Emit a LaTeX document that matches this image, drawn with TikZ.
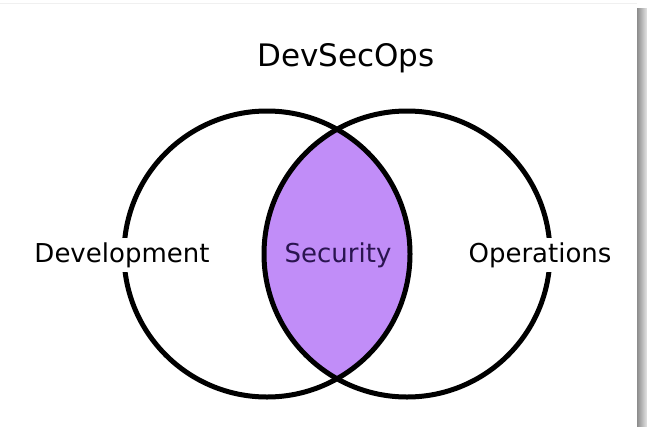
\documentclass[tikz,border=0pt]{standalone}
\usepackage{fontspec}
\setmainfont{DejaVu Sans}
\usepackage{xcolor}

\definecolor{secfill}{HTML}{C18DF8}
\definecolor{sectext}{HTML}{2A1450}

\begin{document}
\begin{tikzpicture}[x=1pt,y=-1pt,
        word/.style={font=\fontsize{26}{31}\selectfont, anchor=base, inner sep=4.5pt},
        ring/.style={line width=5pt}]
                \useasboundingbox (0,0) rectangle (647,426);

                \coordinate (dev) at (267,254);
                \coordinate (ops) at (407,254);

                % page edge and shadow
                \draw[black!6, line width=1pt] (0,3) -- (637,3);
                \shade[left color=black!45, right color=black!10] (637,8) rectangle (647,426);

                % overlap
                \begin{scope}
                    \clip (dev) circle (143);
                    \fill[secfill] (ops) circle (143);
                \end{scope}

                \draw[ring] (dev) circle (143);
                \draw[ring] (ops) circle (143);

                \node [word, font=\fontsize{31}{37}\selectfont] (title) at (346,66) {DevSecOps};
                \node [word, fill=white] (devtxt) at (122,262) {Development};
                \node [word, text=sectext] (sectxt) at (338,262) {Security};
                \node [word, fill=white] (opstxt) at (540,262) {Operations};

\end{tikzpicture}
\end{document}
